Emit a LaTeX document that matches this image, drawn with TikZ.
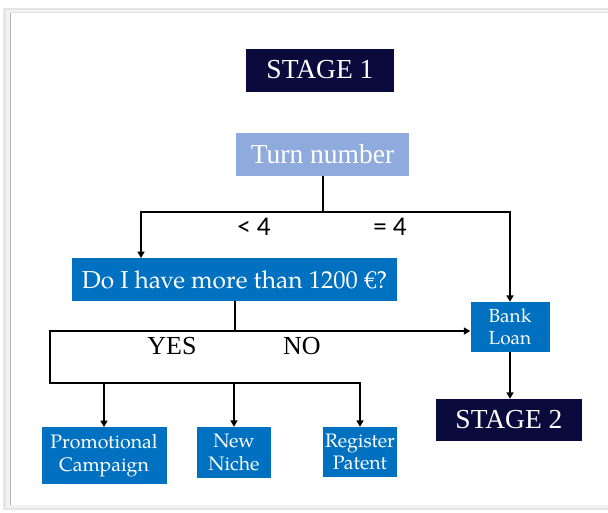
\documentclass[tikz,border=0pt]{standalone}
\usepackage{fontspec}
\setmainfont{Liberation Serif}
\newfontfamily\palfont{TeX Gyre Pagella}
\newfontfamily\calfont{Carlito}
\usetikzlibrary{arrows.meta,calc}
\definecolor{navy}{RGB}{10,10,60}
\definecolor{boxblue}{RGB}{0,112,192}
\definecolor{lightblue}{RGB}{143,170,220}
\begin{document}
\begin{tikzpicture}[x=1pt,y=-1pt,
  stagebox/.style={fill=navy,text=white,inner sep=0pt,font=\fontsize{27.5}{30}\selectfont},
  bluebox/.style={fill=boxblue,text=white,inner sep=0pt,align=center,font=\palfont\fontsize{19.5}{22.7}\selectfont},
  conn/.style={line width=2pt,black},
  arr/.style={conn,-{Triangle[length=6.5pt,width=7pt]}},
  lbl/.style={inner sep=0pt,font=\fontsize{26}{28}\selectfont}]
\useasboundingbox (0,0) rectangle (608,512);
% panel with shadow
\fill[black!10] (3,8) rectangle (608,510);
\fill[black!5] (6,10) rectangle (608,508);
\fill[white] (11,13) rectangle (608,505);
\draw[black!30,line width=0.8pt] (10.5,13) -- (10.5,505);
\draw[black!12,line width=0.6pt] (11,12.7) -- (608,12.7);
% nodes
\node[stagebox,minimum width=148pt,minimum height=43pt] (s1) at (320,70) {STAGE 1};
\node[fill=lightblue,text=white,inner sep=0pt,minimum width=173pt,minimum height=43pt,
      font=\fontsize{27.5}{30}\selectfont] (turn) at (322.5,154.5) {Turn number};
\node[bluebox,minimum width=325pt,minimum height=42.5pt,font=\palfont\fontsize{24.5}{26}\selectfont] (q) at (234.5,279.5) {Do I have more than 1200 €?};
\node[bluebox,minimum width=79pt,minimum height=50pt,font=\palfont\fontsize{19}{22}\selectfont] (bank) at (510,327) {Bank\\Loan};
\node[stagebox,minimum width=146pt,minimum height=42pt] (s2) at (509,420) {STAGE 2};
\node[bluebox,minimum width=125pt,minimum height=56.5pt] (promo) at (104,455.5) {Promotional\\Campaign};
\node[bluebox,minimum width=74pt,minimum height=51pt] (niche) at (234,452.5) {New\\Niche};
\node[bluebox,minimum width=74pt,minimum height=50pt] (patent) at (360,452) {Register\\Patent};
% labels
\node[lbl,font=\calfont\fontsize{27}{28}\selectfont] (lt) at (254,227) {< 4};
\node[lbl,font=\calfont\fontsize{27}{28}\selectfont] (eq) at (390,227) {= 4};
\node[lbl] (yes) at (172,346) {YES};
\node[lbl] (no) at (302,346) {NO};
% connectors
\coordinate (j1) at (322.5,212);
\coordinate (xl) at (141,0);
\draw[conn] (turn.south) -- (j1);
\draw[arr] (j1) -| (q.north -| xl);
\draw[arr] (j1) -| (bank.north);
\coordinate (j2) at (234.5,331);
\coordinate (c1) at (50,331);
\coordinate (c2) at (50,383);
\draw[conn] (q.south) -- (j2);
\draw[arr] (j2) -- (j2 -| bank.west);
\draw[arr] (j2) -- (c1) -- (c2) -| (patent.north);
\draw[arr] (c2 -| promo.north) -- (promo.north);
\draw[arr] (c2 -| niche.north) -- (niche.north);
\draw[arr] (bank.south) -- (bank.south |- s2.north);
\end{tikzpicture}
\end{document}
